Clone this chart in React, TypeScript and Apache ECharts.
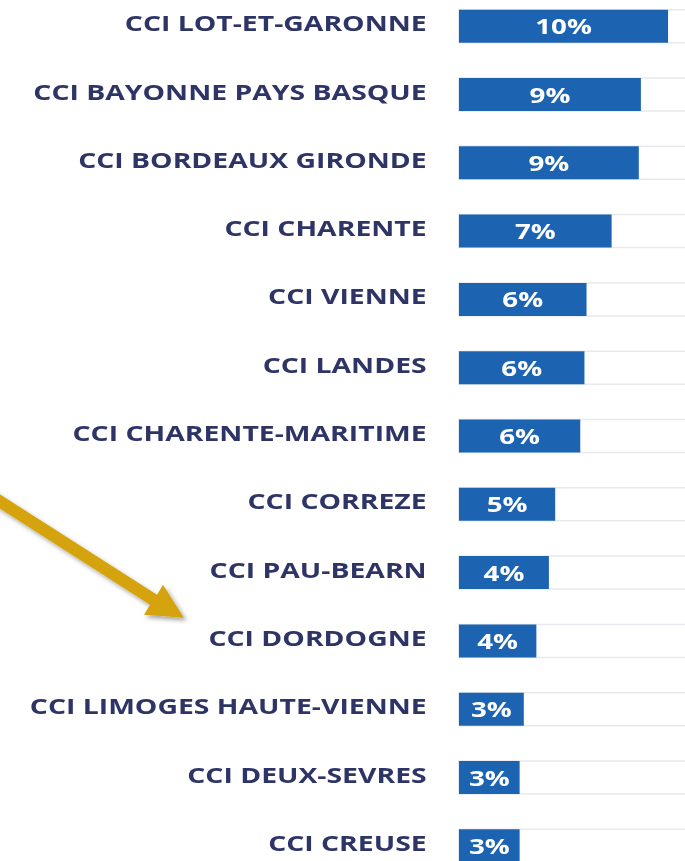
import React, { useEffect, useRef } from "react";
import * as echarts from "echarts";

const categories = [
  "CCI LOT-ET-GARONNE",
  "CCI BAYONNE PAYS BASQUE",
  "CCI BORDEAUX GIRONDE",
  "CCI CHARENTE",
  "CCI VIENNE",
  "CCI LANDES",
  "CCI CHARENTE-MARITIME",
  "CCI CORREZE",
  "CCI PAU-BEARN",
  "CCI DORDOGNE",
  "CCI LIMOGES HAUTE-VIENNE",
  "CCI DEUX-SEVRES",
  "CCI CREUSE",
];
const values = [10.0, 8.7, 8.6, 7.3, 6.1, 6.0, 5.8, 4.6, 4.3, 3.7, 3.1, 2.9, 2.9];

const S = 1.32;
const W = 685 / S + 5;
const TOP = -7.7;
const H = 888.3;

const arrowPts: number[][] = [
  [-12, 487],
  [157, 595],
  [163, 585],
  [184, 618],
  [144, 615],
  [150, 605],
  [-18, 497.4],
];

export default function App() {
  const ref = useRef<HTMLDivElement>(null);
  useEffect(() => {
    document.body.style.margin = "0";
    document.body.style.overflow = "hidden";
    const chart = echarts.init(ref.current!, null, { renderer: "svg" });
    const left = 459 / S;
    const axisLen = W - left;
    const max = (10 * axisLen) / ((668 - 459) / S);
    chart.setOption({
      animation: false,
      backgroundColor: "#ffffff",
      grid: { left, right: 0, top: 0, bottom: 0, containLabel: false },
      xAxis: {
        type: "value",
        min: 0,
        max,
        show: false,
        splitLine: { show: false },
      },
      yAxis: {
        type: "category",
        inverse: true,
        data: categories,
        axisLine: { show: false },
        axisTick: { show: false },
        axisLabel: {
          margin: 24.5,
          color: "#2e3566",
          fontFamily: "Open Sans",
          fontWeight: "bold",
          fontSize: 21.5,
          verticalAlign: "bottom",
          lineHeight: 7,
        },
      },
      series: [
        {
          type: "bar",
          data: values,
          barWidth: 33,
          itemStyle: { color: "#1c63b1" },
          showBackground: true,
          backgroundStyle: { color: "#ffffff", borderColor: "#e6e9ee", borderWidth: 1.5 },
          label: {
            show: true,
            position: "inside",
            color: "#ffffff",
            fontFamily: "Open Sans",
            fontWeight: "bold",
            fontSize: 21,
            formatter: (p: any) => Math.round(p.value) + "%",
          },
        },
      ],
      graphic: [
        {
          type: "polygon",
          shape: { points: arrowPts.map(([x, y]) => [x / S, y - TOP]) },
          style: {
            fill: "#d5a30b",
            shadowBlur: 4,
            shadowColor: "rgba(0,0,0,0.35)",
            shadowOffsetX: 2,
            shadowOffsetY: 3,
          },
          z: 10,
        },
      ],
    });
    return () => chart.dispose();
  }, []);
  return (
    <div
      ref={ref}
      style={{
        position: "absolute",
        left: 0,
        top: TOP,
        width: W,
        height: H,
        transform: `scaleX(${S})`,
        transformOrigin: "0 0",
      }}
    />
  );
}
